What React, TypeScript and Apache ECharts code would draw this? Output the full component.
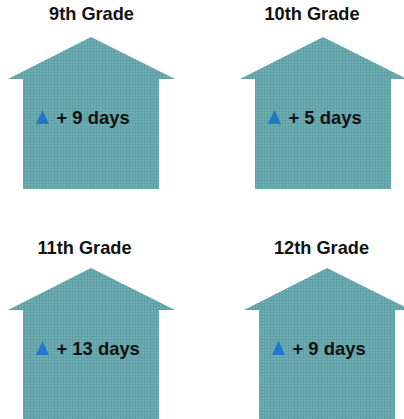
import React, { useEffect, useRef } from "react";
import * as echarts from "echarts";

const grades = ["9th Grade", "10th Grade", "11th Grade", "12th Grade"];
const days = [9, 5, 13, 9];
const apexX = [91, 323, 91, 327];
const apexY = [37, 37, 268, 268];
const titleX = [91.5, 312, 84.5, 321.5];
const titleY = [14, 14, 248, 248];

const W = 404;
const H = 419;
const FONT = '"Liberation Sans", Arial, sans-serif';

function makeTexture(): string {
  const c = document.createElement("canvas");
  c.width = 3;
  c.height = 3;
  const g = c.getContext("2d")!;
  g.fillStyle = "#6cadb2";
  g.fillRect(0, 0, 3, 3);
  g.fillStyle = "#62a2a8";
  g.fillRect(0, 0, 3, 1);
  g.fillRect(0, 0, 1, 3);
  g.fillStyle = "#5a9aa0";
  g.fillRect(0, 0, 1, 1);
  return c.toDataURL();
}

export default function App() {
  const ref = useRef<HTMLDivElement>(null);
  useEffect(() => {
    document.body.style.margin = "0";
    const chart = echarts.init(ref.current!, null, { renderer: "svg" });
    const texture = { image: makeTexture(), repeat: "repeat", imageWidth: 3, imageHeight: 3 };
    chart.setOption({
      animation: false,
      backgroundColor: "#ffffff",
      grid: { left: 0, right: 0, top: 0, bottom: 0 },
      xAxis: { type: "value", min: 0, max: W, show: false },
      yAxis: { type: "value", min: 0, max: H, inverse: true, show: false },
      series: [
        {
          type: "custom",
          coordinateSystem: "cartesian2d",
          clip: true,
          data: grades.map((g, i) => [apexX[i], apexY[i], titleX[i], titleY[i], days[i], g]),
          renderItem: (_p: any, api: any) => {
            const [ax, ay] = api.coord([api.value(0), api.value(1)]);
            const [tx, ty] = api.coord([api.value(2), api.value(3)]);
            const d = api.value(4);
            const title = api.value(5);
            return {
              type: "group",
              children: [
                {
                  type: "polygon",
                  shape: {
                    points: [
                      [ax, ay],
                      [ax + 84, ay + 42],
                      [ax + 68, ay + 42],
                      [ax + 68, ay + 152],
                      [ax - 68, ay + 152],
                      [ax - 68, ay + 42],
                      [ax - 83, ay + 42],
                    ],
                  },
                  style: { fill: texture },
                },
                {
                  type: "polygon",
                  shape: {
                    points: [
                      [ax - 48.5, ay + 73],
                      [ax - 42, ay + 87],
                      [ax - 55, ay + 87],
                    ],
                  },
                  style: { fill: "#1f78c8" },
                },
                {
                  type: "text",
                  x: ax - 34.5,
                  y: ay + 80,
                  style: {
                    text: `+ ${d} days`,
                    fill: "#111111",
                    font: `bold 18.4px ${FONT}`,
                    textAlign: "left",
                    textVerticalAlign: "middle",
                  },
                },
                {
                  type: "text",
                  x: tx,
                  y: ty,
                  style: {
                    text: title,
                    fill: "#111111",
                    font: `bold 18.2px ${FONT}`,
                    textAlign: "center",
                    textVerticalAlign: "middle",
                  },
                },
              ],
            };
          },
        },
      ],
    });
    return () => chart.dispose();
  }, []);
  return <div ref={ref} style={{ width: W, height: H }} />;
}
